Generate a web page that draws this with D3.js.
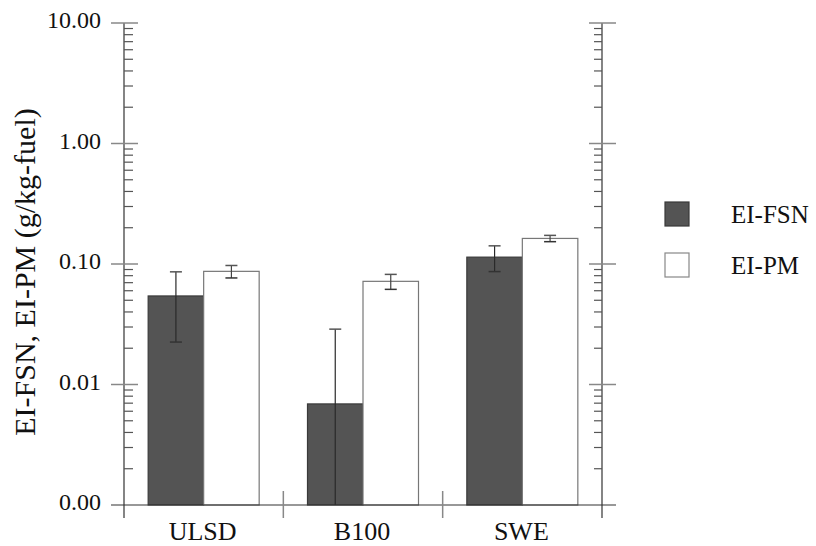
<!DOCTYPE html>
<html>
<head>
<meta charset="utf-8">
<script src="https://cdn.jsdelivr.net/npm/d3@7"></script>
<style>
  html, body { margin: 0; padding: 0; background: #fff; }
  svg { display: block; }
  svg text { font-family: "Liberation Serif", "Times New Roman", Times, serif; fill: #111; }
</style>
</head>
<body>
<svg id="chart" width="816" height="546"></svg>
<script>
// Emission indices by fuel (g/kg-fuel)
const fuels = ["ULSD", "B100", "SWE"];
const seriesNames = ["EI-FSN", "EI-PM"];
const eiFSN = [0.0543, 0.0069, 0.114];
const eiFSNErr = [0.0318, 0.0219, 0.0275];
const eiPM = [0.0869, 0.0718, 0.163];
const eiPMErr = [0.0103, 0.0102, 0.0098];
const yTicks = [0.001, 0.01, 0.1, 1, 10];

const svg = d3.select("#chart");
const plotL = 124, plotR = 602, plotT = 23, plotB = 505;
const serif = "'Liberation Serif', 'Times New Roman', Times, serif";

const y = d3.scaleLog().domain([0.001, 10]).range([plotB, plotT]);
const x = d3.scaleBand().domain(fuels).range([plotL, plotR]).padding(0);
const barW = 55.5;
const fills = ["#545454", "#ffffff"];
const strokes = ["#3a3a3a", "#777"];

const values = [eiFSN, eiPM];
const errs = [eiFSNErr, eiPMErr];

// minor ticks for the log axes
const minor = [];
for (let p = -3; p < 1; p++) for (let m = 2; m <= 9; m++) minor.push(m * Math.pow(10, p));

// bars
const g = svg.append("g");
values.forEach((vals, si) => {
  g.selectAll(null).data(fuels).enter().append("rect")
    .attr("x", d => x(d) + x.bandwidth() / 2 - barW + si * barW)
    .attr("y", (d, i) => y(vals[i]))
    .attr("width", barW)
    .attr("height", (d, i) => plotB - y(vals[i]))
    .attr("fill", fills[si])
    .attr("stroke", strokes[si])
    .attr("stroke-width", 1.2);
});

// error bars
values.forEach((vals, si) => {
  fuels.forEach((f, i) => {
    const cx = x(f) + x.bandwidth() / 2 - barW / 2 + si * barW;
    const hi = vals[i] + errs[si][i];
    const loRaw = vals[i] - errs[si][i];
    const lo = Math.max(loRaw, 0.001);
    g.append("line").attr("x1", cx).attr("x2", cx)
      .attr("y1", y(hi)).attr("y2", y(lo))
      .attr("stroke", si === 0 ? "#2a2a2a" : "#444").attr("stroke-width", 1.2);
    g.append("line").attr("x1", cx - 6).attr("x2", cx + 6)
      .attr("y1", y(hi)).attr("y2", y(hi))
      .attr("stroke", "#555").attr("stroke-width", 1.5);
    if (loRaw > 0.001) {
      g.append("line").attr("x1", cx - 6).attr("x2", cx + 6)
        .attr("y1", y(lo)).attr("y2", y(lo))
        .attr("stroke", "#333").attr("stroke-width", 1.5);
    }
  });
});

// left axis
const axL = svg.append("g");
axL.append("line").attr("x1", plotL).attr("x2", plotL).attr("y1", plotT).attr("y2", 518)
  .attr("stroke", "#333").attr("stroke-width", 1.2);
axL.selectAll(".mj").data(yTicks.filter(t => t > 0.001)).enter().append("line")
  .attr("x1", 111).attr("x2", 138).attr("y1", d => y(d)).attr("y2", d => y(d))
  .attr("stroke", "#888").attr("stroke-width", 1.5);
axL.selectAll(".mn").data(minor).enter().append("line")
  .attr("x1", plotL).attr("x2", 133).attr("y1", d => y(d)).attr("y2", d => y(d))
  .attr("stroke", "#555").attr("stroke-width", 1.2);
axL.selectAll("text").data(yTicks).enter().append("text")
  .attr("x", 101).attr("y", d => y(d) + 5)
  .attr("text-anchor", "end").attr("font-size", 24).attr("font-family", serif)
  .text(d => d3.format(".2f")(d));

// right axis
const axR = svg.append("g");
axR.append("line").attr("x1", plotR).attr("x2", plotR).attr("y1", plotT).attr("y2", 518)
  .attr("stroke", "#333").attr("stroke-width", 1.2);
axR.selectAll(".mj").data(yTicks.filter(t => t > 0.001)).enter().append("line")
  .attr("x1", 589).attr("x2", 616).attr("y1", d => y(d)).attr("y2", d => y(d))
  .attr("stroke", "#888").attr("stroke-width", 1.5);
axR.selectAll(".mn").data(minor).enter().append("line")
  .attr("x1", 594).attr("x2", plotR).attr("y1", d => y(d)).attr("y2", d => y(d))
  .attr("stroke", "#555").attr("stroke-width", 1.2);

// bottom axis
const axB = svg.append("g");
axB.append("line").attr("x1", 111).attr("x2", 616).attr("y1", plotB).attr("y2", plotB)
  .attr("stroke", "#333").attr("stroke-width", 1.2);
axB.selectAll(".sep").data(fuels.slice(1)).enter().append("line")
  .attr("x1", d => x(d)).attr("x2", d => x(d)).attr("y1", 491).attr("y2", 518)
  .attr("stroke", "#888").attr("stroke-width", 1.5);
axB.selectAll("text").data(fuels).enter().append("text")
  .attr("x", d => x(d) + x.bandwidth() / 2 - 1).attr("y", 540)
  .attr("text-anchor", "middle").attr("font-size", 26).attr("font-family", serif)
  .text(d => d);

// y axis title
svg.append("text")
  .attr("transform", "translate(35, 272) rotate(-90)")
  .attr("text-anchor", "middle").attr("font-size", 30).attr("font-family", serif)
  .text("EI-FSN, EI-PM (g/kg-fuel)");

// legend
const lg = svg.append("g");
seriesNames.forEach((name, i) => {
  lg.append("rect").attr("x", 665).attr("y", 202 + i * 51).attr("width", 24).attr("height", 24)
    .attr("fill", fills[i]).attr("stroke", i === 0 ? "#3a3a3a" : "#888").attr("stroke-width", 1.2);
  lg.append("text").attr("x", 731).attr("y", 223 + i * 51)
    .attr("font-size", 25).attr("font-family", serif).text(name);
});
</script>
</body>
</html>
